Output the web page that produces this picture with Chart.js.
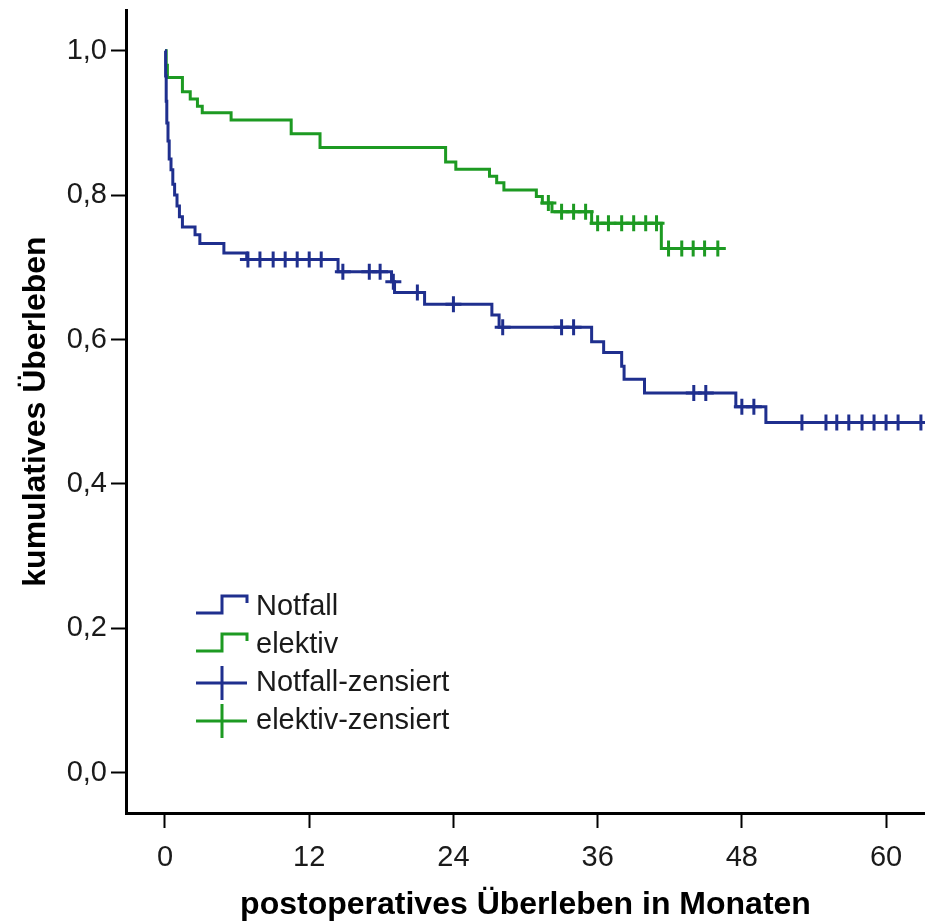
<!DOCTYPE html>
<html>
<head>
<meta charset="utf-8">
<script src="https://cdn.jsdelivr.net/npm/chart.js@4.4.1/dist/chart.umd.min.js"></script>
<style>
  html, body { margin: 0; padding: 0; background: #fff; overflow: hidden; }
  #wrap { width: 925px; height: 924px; position: relative; overflow: hidden; }
  #wrap canvas { display: block; }
</style>
</head>
<body>
<div id="wrap"><canvas id="km"></canvas></div>
<script>
// Kaplan-Meier Stufen: Zeitpunkt (Monate) und kumulatives Überleben danach
const notfallTime = [0, 0.05, 0.1, 0.15, 0.25, 0.35, 0.5, 0.65, 0.8, 1.0, 1.2, 1.45, 2.5, 2.9, 4.9, 6.8, 14.4, 18.85, 19.1, 21.6, 27.2, 27.8, 35.5, 36.5, 38.0, 38.2, 39.9, 47.5, 50.0, 63.3];
const notfallSurv = [1.0, 0.965, 0.93, 0.90, 0.875, 0.85, 0.835, 0.815, 0.80, 0.785, 0.77, 0.756, 0.745, 0.733, 0.72, 0.711, 0.694, 0.68, 0.665, 0.649, 0.634, 0.617, 0.597, 0.582, 0.563, 0.545, 0.526, 0.507, 0.485, 0.485];

const elektivTime = [0, 0.1, 0.2, 1.45, 2.1, 2.7, 3.1, 5.5, 10.5, 12.9, 23.35, 24.2, 27.0, 27.6, 28.2, 30.9, 31.4, 32.2, 35.5, 41.3, 46.0];
const elektivSurv = [1.0, 0.98, 0.963, 0.943, 0.933, 0.923, 0.914, 0.904, 0.885, 0.866, 0.846, 0.836, 0.826, 0.817, 0.807, 0.798, 0.789, 0.777, 0.761, 0.726, 0.726];

// zensierte Fälle
const notfallCensTime = [6.9, 7.9, 9.0, 10.0, 11.0, 12.0, 13.0, 14.8, 17.0, 17.9, 19.0, 21.0, 24.0, 28.1, 33.0, 34.0, 44.0, 45.0, 48.0, 49.0, 53.0, 55.0, 55.9, 56.9, 58.0, 59.0, 60.0, 61.0, 62.9];
const notfallCensSurv = [0.711, 0.711, 0.711, 0.711, 0.711, 0.711, 0.711, 0.694, 0.694, 0.694, 0.68, 0.665, 0.649, 0.617, 0.617, 0.617, 0.526, 0.526, 0.507, 0.507, 0.485, 0.485, 0.485, 0.485, 0.485, 0.485, 0.485, 0.485, 0.485];

const elektivCensTime = [31.9, 33.0, 34.0, 35.0, 36.0, 36.9, 38.0, 39.0, 40.0, 40.9, 41.9, 43.0, 43.95, 44.9, 46.0];
const elektivCensSurv = [0.789, 0.777, 0.777, 0.777, 0.761, 0.761, 0.761, 0.761, 0.761, 0.761, 0.726, 0.726, 0.726, 0.726, 0.726];

const xTicks = [0, 12, 24, 36, 48, 60];
const yTicks = [0, 0.2, 0.4, 0.6, 0.8, 1.0];
const legendLabels = ['Notfall', 'elektiv', 'Notfall-zensiert', 'elektiv-zensiert'];

const BLUE = '#1f2f8e';
const GREEN = '#1d9a22';
const FONT = "'Liberation Sans', Arial, sans-serif";

const toXY = (xs, ys) => xs.map((x, i) => ({ x: x, y: ys[i] }));

// Legende innerhalb der Grafik (wie im SPSS-Original)
const kmLegend = {
    id: 'kmLegend',
    afterDraw(chart) {
        const ctx = chart.ctx;
        const colors = [BLUE, GREEN, BLUE, GREEN];
        const x0 = 196, x1 = 247, tx = 256;
        const rows = [607, 645, 683, 721];
        ctx.save();
        ctx.lineWidth = 3;
        rows.forEach((y, i) => {
            ctx.strokeStyle = colors[i];
            ctx.beginPath();
            if (i < 2) {
                ctx.moveTo(x0, y + 6);
                ctx.lineTo(x0 + 26, y + 6);
                ctx.lineTo(x0 + 26, y - 11);
                ctx.lineTo(x1, y - 11);
                ctx.lineTo(x1, y - 4);
            } else {
                ctx.moveTo(x0, y);
                ctx.lineTo(x1, y);
                ctx.moveTo(x0 + 26, y - 17);
                ctx.lineTo(x0 + 26, y + 17);
            }
            ctx.stroke();
            ctx.fillStyle = '#1a1a1a';
            ctx.font = '29px ' + FONT;
            ctx.textBaseline = 'middle';
            ctx.textAlign = 'left';
            ctx.fillText(legendLabels[i], tx, y);
        });
        ctx.restore();
    }
};

new Chart(document.getElementById('km'), {
    type: 'line',
    data: {
        datasets: [{
            label: 'Notfall',
            data: toXY(notfallTime, notfallSurv),
            borderColor: BLUE,
            borderWidth: 3,
            pointRadius: 0,
            stepped: true,
            fill: false
        }, {
            label: 'elektiv',
            data: toXY(elektivTime, elektivSurv),
            borderColor: GREEN,
            borderWidth: 3,
            pointRadius: 0,
            stepped: true,
            fill: false
        }, {
            label: 'Notfall-zensiert',
            data: toXY(notfallCensTime, notfallCensSurv),
            showLine: false,
            pointStyle: 'cross',
            pointRadius: 8,
            pointBorderWidth: 3,
            borderColor: BLUE,
            backgroundColor: BLUE
        }, {
            label: 'elektiv-zensiert',
            data: toXY(elektivCensTime, elektivCensSurv),
            showLine: false,
            pointStyle: 'cross',
            pointRadius: 8,
            pointBorderWidth: 3,
            borderColor: GREEN,
            backgroundColor: GREEN
        }]
    },
    options: {
        responsive: true,
        maintainAspectRatio: false,
        animation: false,
        layout: { autoPadding: false, padding: { top: 10, right: 0, left: 0, bottom: 0 } },
        plugins: {
            legend: { display: false },
            tooltip: { enabled: false }
        },
        scales: {
            x: {
                type: 'linear',
                min: -3.245,
                max: 63.24,
                afterBuildTicks: s => { s.ticks = xTicks.map(v => ({ value: v })); },
                afterFit: s => { s.height = 111; s.paddingLeft = 0; s.paddingRight = 0; },
                border: { color: '#000', width: 3 },
                grid: { drawOnChartArea: false, drawTicks: true, tickLength: 15, tickWidth: 2, tickColor: '#000' },
                ticks: {
                    color: '#1a1a1a',
                    padding: 13,
                    maxRotation: 0,
                    font: { family: FONT, size: 29 }
                },
                title: {
                    display: true,
                    text: 'postoperatives Überleben in Monaten',
                    color: '#000',
                    padding: { top: 0, bottom: 0 },
                    font: { family: FONT, size: 32, weight: 'bold' }
                }
            },
            y: {
                min: -0.0558,
                max: 1.0564,
                afterBuildTicks: s => { s.ticks = yTicks.map(v => ({ value: v })); },
                afterFit: s => { s.width = 126; s.paddingTop = 0; s.paddingBottom = 0; },
                border: { color: '#000', width: 3 },
                grid: { drawOnChartArea: false, drawTicks: true, tickLength: 15, tickWidth: 2, tickColor: '#000' },
                ticks: {
                    color: '#1a1a1a',
                    padding: 4,
                    font: { family: FONT, size: 29 },
                    callback: v => v.toFixed(1).replace('.', ',')
                },
                title: {
                    display: true,
                    text: 'kumulatives Überleben',
                    color: '#000',
                    padding: { top: 17, bottom: 0 },
                    font: { family: FONT, size: 32, weight: 'bold' }
                }
            }
        }
    },
    plugins: [kmLegend]
});
</script>
</body>
</html>
